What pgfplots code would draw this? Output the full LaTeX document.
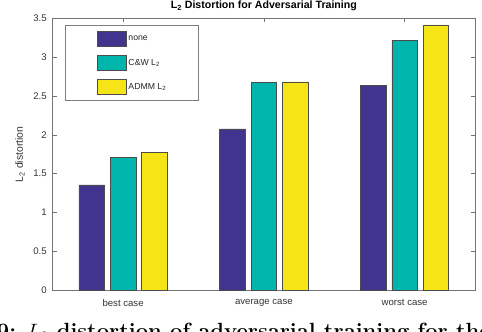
\documentclass[border=0pt]{standalone}
\usepackage{fontspec}
\usepackage{pgfplots}
\pgfplotsset{compat=1.18}
\newfontfamily\arial{Liberation Sans}

\definecolor{cnone}{RGB}{64,52,143}
\definecolor{ccw}{RGB}{0,181,172}
\definecolor{cadmm}{RGB}{245,229,22}

\begin{document}
\begin{tikzpicture}
% picture frame: 482 x 332, axis box lower left at (52.7, 290.3) px
\path[clip, use as bounding box] (-52.7pt,-41.7pt) rectangle (429.3pt,290.3pt);
\begin{axis}[
    at={(0,0)}, anchor=south west,
    width=422.3pt, height=272pt, scale only axis,
    xmin=0.5, xmax=3.5, ymin=0, ymax=3.5,
    ybar, bar width=0.182,
    xtick={1,2,3},
    xticklabels={best case, average case, worst case},
    ytick={0,0.5,1,1.5,2,2.5,3,3.5},
    xtick pos=both, ytick pos=both,
    xticklabel pos=lower, yticklabel pos=left,
    tick align=inside, major tick length=4pt,
    axis line style={black!55, line width=0.6pt},
    tick style={black!55, line width=0.6pt},
    /pgf/number format/assume math mode=true,
    ticklabel style={font=\arial\fontsize{9.6}{11}\selectfont, text=black!80},
    yticklabel style={xshift=-2.5pt},
    xticklabel style={yshift=-5.5pt},
    ylabel={L\textsubscript{2} distortion},
    every axis y label/.style={at={(axis description cs:0,0.5)}, rotate=90,
        anchor=center, yshift=32.7pt, font=\arial\fontsize{10.4}{12}\selectfont, text=black!80},
    title={L\textsubscript{2} Distortion for Adversarial Training},
    every axis title/.style={at={(axis description cs:0.5,1)}, anchor=center,
        yshift=12.5pt, font=\arial\bfseries\fontsize{10.6}{12}\selectfont},
    legend style={at={(axis description cs:0.0291,0.9754)}, anchor=north west,
        draw=black!50, line width=0.5pt, inner xsep=0pt, inner ysep=6pt,
        font=\arial\fontsize{8.7}{10}\selectfont, text=black!85,
        /tikz/every odd column/.style={column sep=0pt},
        row sep=8.5pt},
    legend cell align=left,
    legend image code/.code={
        \path[draw=none, fill=none] (-32pt,0) -- (0pt,0);
        \draw[#1, draw=black!70, line width=0.5pt] (0pt,-7.5pt) rectangle (29pt,7.5pt);
    },
]
\addplot[fill=cnone, draw=black!70, line width=0.5pt, bar shift=-0.2225]
    coordinates {(1,1.355) (2,2.076) (3,2.640)};
\addplot[fill=ccw, draw=black!70, line width=0.5pt, bar shift=0]
    coordinates {(1,1.707) (2,2.677) (3,3.212)};
\addplot[fill=cadmm, draw=black!70, line width=0.5pt, bar shift=0.2225]
    coordinates {(1,1.776) (2,2.682) (3,3.414)};
\addlegendentry{\makebox[68pt][l]{none}}
\addlegendentry{\makebox[68pt][l]{C\&W L\textsubscript{2}}}
\addlegendentry{\makebox[68pt][l]{ADMM L\textsubscript{2}}}
\end{axis}
% figure caption of the paper, cut by the lower edge
\node[anchor=base west, inner sep=0pt, font=\fontsize{22}{24}\selectfont\bfseries]
    at (-56pt,-48pt) {9: $L_2$ distortion of adversarial training for the};
\end{tikzpicture}
\end{document}
